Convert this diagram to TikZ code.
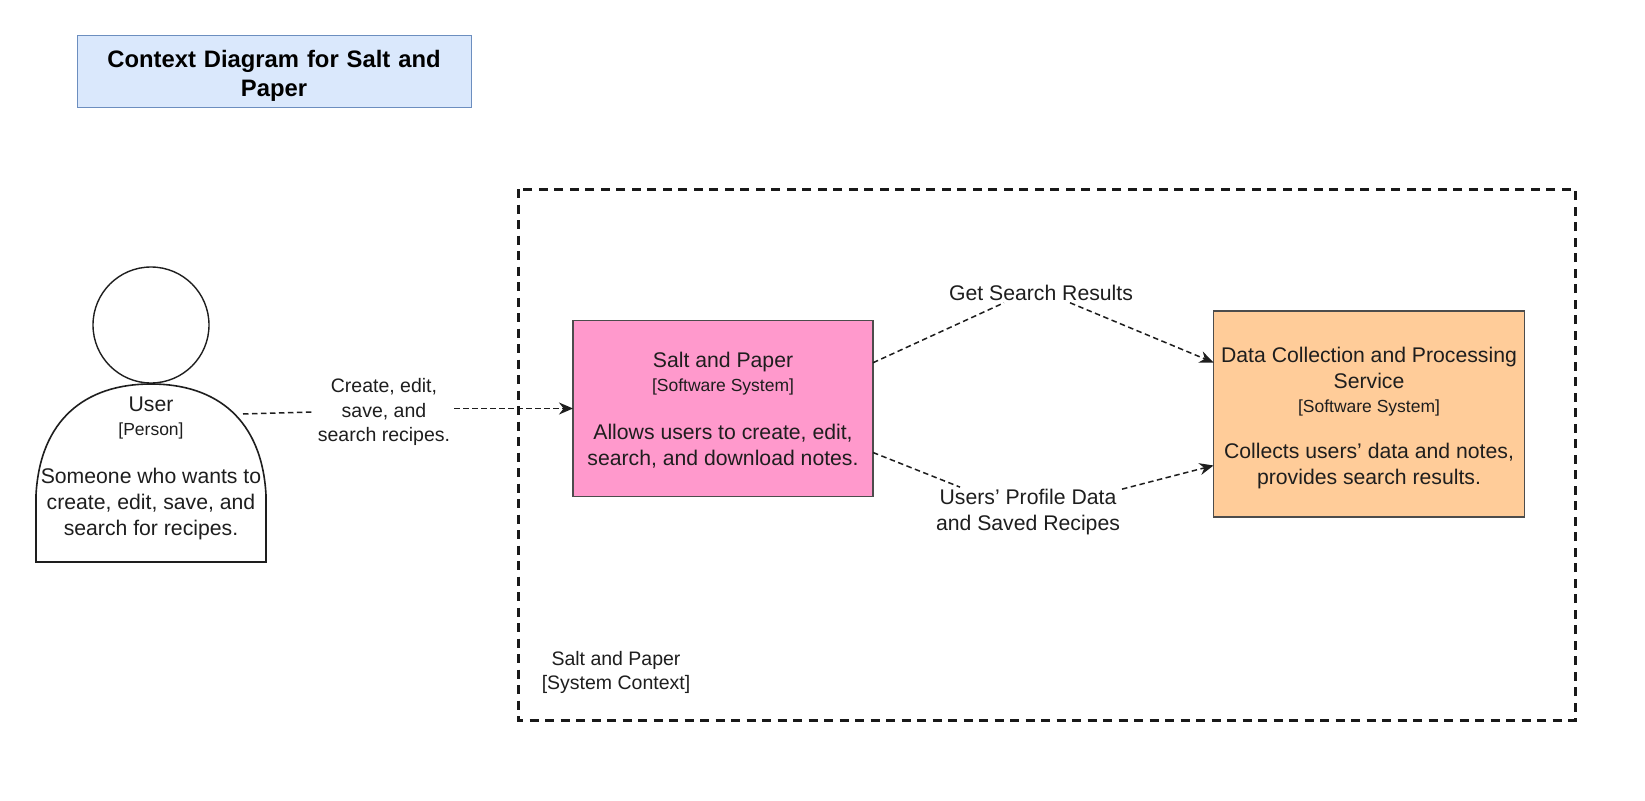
\documentclass[tikz,border=0pt]{standalone}
\usepackage{fontspec}
\setmainfont{Liberation Sans}
\usetikzlibrary{arrows.meta,calc}
\newcommand{\bt}{\fontsize{21.2}{26}\selectfont}
\newcommand{\st}{\fontsize{17.5}{26}\selectfont}
\definecolor{ink}{HTML}{1E1E1E}
\definecolor{titlefill}{HTML}{DAE8FC}
\definecolor{titleline}{HTML}{6C8EBF}
\definecolor{pinkfill}{HTML}{FF99CC}
\definecolor{orangefill}{HTML}{FFCC99}
\tikzset{
  x=1pt,y=-1pt,
  every node/.style={text=ink,align=center,inner sep=0pt,outer sep=0pt},
  sysbox/.style={draw=black!70,line width=1.5pt,minimum width=#1,font=\bt},
  link/.style={draw=ink,line width=1.5pt,dash pattern=on 5.5pt off 3.5pt},
  linkend/.style={link,-{Stealth[length=14pt,width=12pt]}},
  lab/.style={inner xsep=4pt,inner ysep=2pt,font=\bt}
}
\begin{document}
\begin{tikzpicture}
\useasboundingbox (0,0) rectangle (1645,800);
\fill[white] (0,0) rectangle (1645,800);

\node[draw=titleline,fill=titlefill,line width=1pt,minimum width=394pt,minimum height=71pt,
  font=\bfseries\fontsize{23.8}{29.5}\selectfont,text width=380pt,text=black] (title) at (274,71.5) {\rule{0pt}{26pt}Context Diagram for Salt and\\Paper};

\draw[line width=3pt,dash pattern=on 9pt off 6.5pt,black!90] (518,189) rectangle (1575,720);
\node[font=\fontsize{19.5}{24}\selectfont] (ctx) at (616,672.5) {Salt and Paper\\{}[System Context]};

\node[draw=ink,fill=white,circle,line width=1.4pt,minimum size=116pt] (head) at (151,325) {};
\draw[ink,line width=1.6pt,fill=white] (36,562) -- (36,495) .. controls (40,420) and (85,384) .. (151,384)
   .. controls (217,384) and (262,420) .. (266,495) -- (266,562) -- cycle;
\coordinate (userport) at (243,414);
\node[font=\bt] (user) at (151,468.5) {User\\[-2pt]{\st [Person]}\\[22pt]Someone who wants to\\create, edit, save, and\\search for recipes.};

\node[sysbox=300pt,minimum height=176pt,fill=pinkfill] (sp) at (723,408.5) {\rule{0pt}{18.5pt}Salt and Paper\\[-2pt]{\st [Software System]}\\[22pt]Allows users to create, edit,\\search, and download notes.};
\node[sysbox=311pt,minimum height=206pt,fill=orangefill] (dc) at (1369,414) {\rule{0pt}{24pt}Data Collection and Processing\\Service\\[-2pt]{\st [Software System]}\\[20pt]Collects users' data and notes,\\provides search results.};

\node[lab,font=\fontsize{19.5}{24.5}\selectfont] (l1) at (384,412) {Create, edit,\\save, and\\search recipes.};
\node[lab] (l2) at (1041,293) {Get Search Results};
\node[lab] (l3) at (1028,512) {Users' Profile Data\\and Saved Recipes};

\draw[link] (userport) -- (l1.west);
\draw[linkend] (l1.east |- sp.west) -- (sp.west);
\draw[link] ($(sp.north east)!0.24!(sp.south east)$) -- ($(l2.south)+(-37,0)$);
\draw[linkend] ($(l2.south)+(29,0)$) -- ($(dc.north west)!0.25!(dc.south west)$);
\draw[link] ($(sp.north east)!0.75!(sp.south east)$) -- ($(l3.north)+(-68,0)$);
\draw[linkend] ($(l3.north)+(94,2)$) -- ($(dc.north west)!0.75!(dc.south west)$);
\end{tikzpicture}
\end{document}
